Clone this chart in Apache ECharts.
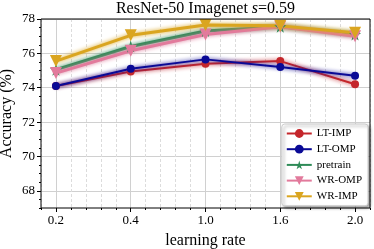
<!DOCTYPE html>
<html><head><meta charset="utf-8">
<script src="https://cdn.jsdelivr.net/npm/echarts@6/dist/echarts.min.js"></script>
<style>html,body{margin:0;padding:0;background:#fff}#c{width:374px;height:249px}</style>
</head><body><div id="c"></div>
<script>
const categories = ['0.2', '0.4', '1.0', '1.6', '2.0'];
const ltImp    = [74.1, 74.95, 75.4, 75.55, 74.2];
const ltOmp    = [74.1, 75.1, 75.65, 75.2, 74.7];
const pretrain = [75.05, 76.4, 77.3, 77.55, 77.1];
const wrOmp    = [74.85, 76.15, 77.1, 77.55, 77.0];
const wrImp    = [75.55, 77.05, 77.65, 77.6, 77.2];
const yTicks = [68, 70, 72, 74, 76, 78];

const FONT = 'Liberation Serif';
const W = 374, H = 249;
const L = 41, R = 4, T = 19, B = 41;
const xMin = -0.2, xMax = categories.length - 1 + 0.2;
const yMin = 67, yMax = 78;
const pw = W - L - R, ph = H - T - B;
const padX = pw * (0 - xMin) / (xMax - xMin);
const padY = ph * (yTicks[0] - yMin) / (yMax - yMin);

const chart = echarts.init(document.getElementById('c'), null, {renderer: 'canvas'});

function mk(name, data, color, symbol, size, width) {
  return {
    name, type: 'line', xAxisIndex: 0, yAxisIndex: 0,
    data: data.map((v, i) => [i, v]),
    symbol, symbolSize: size,
    lineStyle: {color, width, shadowColor: color, shadowBlur: 4, opacity: 1},
    itemStyle: {color},
    emphasis: {disabled: true},
    animation: false
  };
}

const gridBase = {outerBoundsMode: 'none', containLabel: false};

const option = {
  backgroundColor: '#fff',
  animation: false,
  title: {
    text: '{a|ResNet-50 Imagenet }{i|s}{a|=0.59}',
    left: L + pw / 2, textAlign: 'center', top: 1, padding: 0,
    textStyle: {
      fontFamily: FONT, fontSize: 16, fontWeight: 'normal', color: '#000',
      rich: {a: {fontFamily: FONT, fontSize: 16, color: '#000'},
             i: {fontFamily: FONT, fontSize: 16, fontStyle: 'italic', color: '#000'}}
    }
  },
  grid: [
    Object.assign({left: L, right: R, top: T, bottom: B, show: true, borderColor: '#000', borderWidth: 1, backgroundColor: 'transparent', z: 10}, gridBase),
    Object.assign({left: L + padX, right: R + padX, top: T, bottom: B, show: false}, gridBase),
    Object.assign({left: L, right: R, top: T, bottom: B + padY, show: false}, gridBase)
  ],
  xAxis: [
    {gridIndex: 0, type: 'value', min: xMin, max: xMax, interval: 0.2,
     axisLine: {show: false, onZero: false}, axisLabel: {show: false},
     axisTick: {show: true, length: 2, lineStyle: {color: '#000'}},
     splitLine: {show: true, lineStyle: {color: '#dcdcdc', type: [3, 2], width: 1}},
     name: 'learning rate', nameLocation: 'middle', nameGap: 25,
     nameTextStyle: {fontFamily: FONT, fontSize: 16, color: '#000'}},
    {gridIndex: 1, type: 'value', min: 0, max: categories.length - 1, interval: 1,
     axisLine: {show: false, onZero: false},
     axisTick: {show: true, length: 4, lineStyle: {color: '#000'}},
     axisLabel: {show: true, fontFamily: FONT, fontSize: 13, color: '#000', margin: 6,
                 formatter: v => categories[Math.round(v)] || ''},
     splitLine: {show: true, lineStyle: {color: '#d0d0d0', width: 1}}},
    {gridIndex: 2, type: 'value', min: xMin, max: xMax, show: false, axisLine: {onZero: false}}
  ],
  yAxis: [
    {gridIndex: 0, type: 'value', min: yMin, max: yMax, interval: 0.5,
     axisLine: {show: false, onZero: false}, axisLabel: {show: false},
     axisTick: {show: true, length: 2, lineStyle: {color: '#000'}},
     splitLine: {show: false},
     name: 'Accuracy (%)', nameLocation: 'middle', nameGap: 26, nameRotate: 90,
     nameTextStyle: {fontFamily: FONT, fontSize: 16, color: '#000'}},
    {gridIndex: 1, type: 'value', min: yMin, max: yMax, show: false, axisLine: {onZero: false}},
    {gridIndex: 2, type: 'value', min: yTicks[0], max: yTicks[yTicks.length - 1], interval: 2,
     axisLine: {show: false, onZero: false},
     axisTick: {show: true, length: 4, lineStyle: {color: '#000'}},
     axisLabel: {show: true, fontFamily: FONT, fontSize: 13, color: '#000', margin: 6},
     splitLine: {show: true, lineStyle: {color: '#d0d0d0', width: 1}}}
  ],
  legend: {
    data: ['LT-IMP', 'LT-OMP', 'pretrain', 'WR-OMP', 'WR-IMP'],
    orient: 'vertical', right: 6, top: 124,
    itemWidth: 25, itemHeight: 11, itemGap: 4.7,
    padding: [4, 6, 4, 4],
    backgroundColor: '#fff', borderColor: '#cccccc', borderWidth: 1, borderRadius: 3,
    shadowColor: 'rgba(0,0,0,0.35)', shadowBlur: 3, shadowOffsetX: 2, shadowOffsetY: 2,
    textStyle: {fontFamily: FONT, fontSize: 11, color: '#000'},
    z: 20
  },
  series: [
    mk('LT-IMP', ltImp, '#c4262b', 'circle', 8, 2),
    mk('LT-OMP', ltOmp, '#0a0a96', 'circle', 8, 2),
    mk('pretrain', pretrain, '#2e8b57', 'path://M50,0 L61,35 L98,35 L68,57 L79,91 L50,70 L21,91 L32,57 L2,35 L39,35 Z', 12, 3),
    mk('WR-OMP', wrOmp, '#e27a9c', 'path://M0,0 L100,0 L50,90 Z', 12, 3),
    mk('WR-IMP', wrImp, '#daa520', 'path://M0,0 L100,0 L50,90 Z', 12, 3)
  ]
};
chart.setOption(option);
</script></body></html>
